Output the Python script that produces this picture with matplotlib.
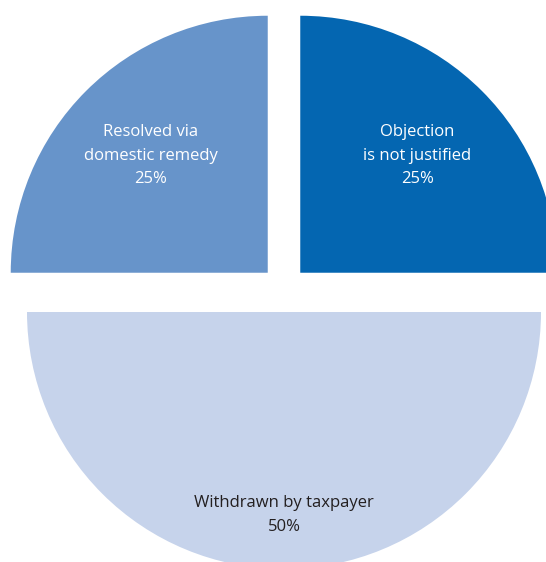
import numpy as np
import matplotlib.pyplot as plt

# data
labels = ["Objection\nis not justified", "Resolved via\ndomestic remedy", "Withdrawn by taxpayer"]
shares = [25, 25, 50]
colors = ["#0466B1", "#6794CA", "#C6D3EB"]
text_colors = ["white", "white", "#231F20"]
label_dist = [0.645, 0.645, 0.79]

plt.rcParams['font.family'] = ['Open Sans', 'DejaVu Sans']

fig = plt.figure(figsize=(5.46, 5.62), dpi=100)
ax = fig.add_axes([0, 0, 1, 1])

# work in pixel units so the pie can run off the edges like the original
R = 257
cx, cy = 284, 562 - 289
gap = 23  # explode is in data units here, not a fraction of R
wedges, _ = ax.pie(shares, colors=colors, startangle=0, counterclock=True,
                   radius=R, center=(cx, cy), explode=[gap, gap, gap],
                   wedgeprops=dict(linewidth=0))

for w, lab, share, tc, d in zip(wedges, labels, shares, text_colors, label_dist):
    ang = np.deg2rad((w.theta1 + w.theta2) / 2)
    x = w.center[0] + d * R * np.cos(ang)
    y = w.center[1] + d * R * np.sin(ang)
    ax.text(x, y, f"{lab}\n{share}%", ha="center", va="center", color=tc,
            fontsize=12, linespacing=1.65)

ax.set_xlim(0, 546)
ax.set_ylim(0, 562)
ax.set_aspect("equal")
ax.axis("off")

fig.savefig("out.png", dpi=100)
